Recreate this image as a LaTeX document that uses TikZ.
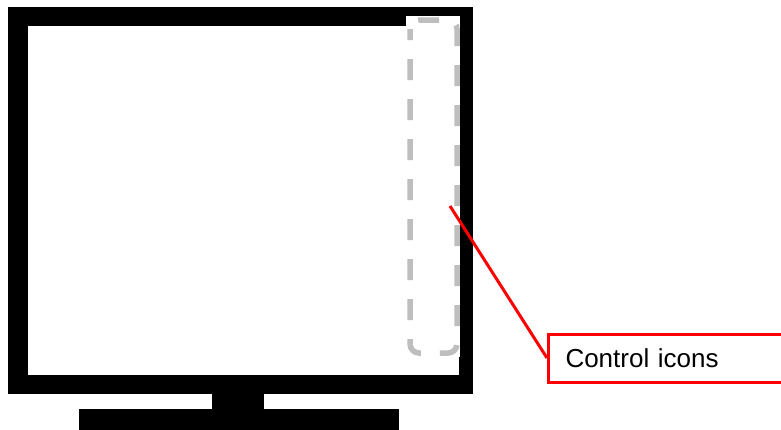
\documentclass[tikz,border=0pt]{standalone}
\usepackage{fontspec}
\setmainfont{Liberation Sans}
\definecolor{dashgray}{RGB}{190,190,190}
\begin{document}
\begin{tikzpicture}[x=1pt,y=-1pt,
  redline/.style={draw=red,line width=3pt},
  callout/.style={redline,fill=white,anchor=west,minimum height=48pt,
    text width=230pt,inner xsep=17pt,align=left,
    font=\fontsize{26}{30}\selectfont}]
\useasboundingbox (0,0) rectangle (781,429);
% monitor
\fill (8,7) rectangle (473,394);
\fill[white] (28,26) rectangle (459,375);
\fill (212,393) rectangle (264,410);
\fill (79,409) rectangle (399,432);

% icon strip
\fill[white] (406,16) rectangle (460,357);
\draw[dashgray,line width=5.5pt,rounded corners=9pt,dash pattern=on 21pt off 19pt,dash phase=10pt]
  (410,20) rectangle (457,353);

\coordinate (tip) at (450,206);
\node[callout] (label) at (547,358) {Control icons};
\draw[redline] (tip) -- (label.west);
\end{tikzpicture}
\end{document}
